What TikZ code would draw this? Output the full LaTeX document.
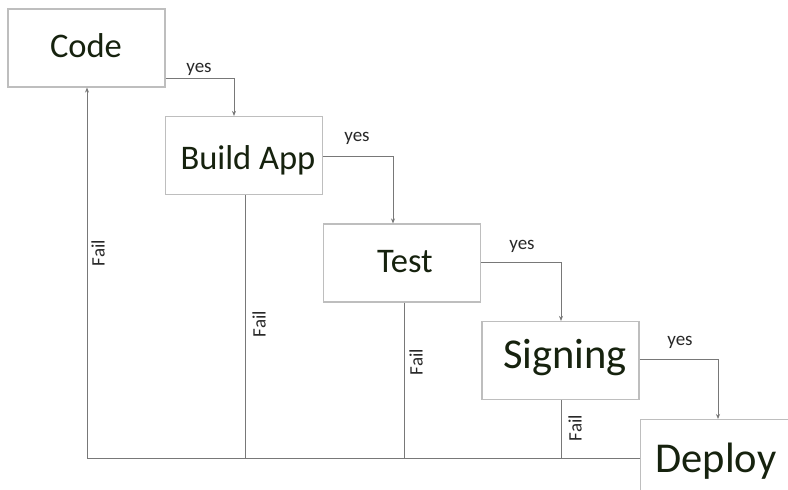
\documentclass[tikz,border=0pt]{standalone}
\usepackage{fontspec}
\setmainfont{Carlito}
\usetikzlibrary{arrows.meta}
\definecolor{boxline}{RGB}{190,190,190}
\definecolor{conn}{RGB}{120,120,120}
\definecolor{txt}{RGB}{22,34,14}
\definecolor{lbl}{RGB}{40,40,40}
\tikzset{
  stage/.style={draw=boxline, line width=1.2pt, fill=white, minimum width=157pt, minimum height=78pt, inner sep=0pt},
  stxt/.style={font=\fontsize{34.5}{38}\selectfont, text=txt, inner sep=0pt},
  btxt/.style={font=\fontsize{42.5}{46}\selectfont, text=txt, inner sep=0pt},
  conn/.style={draw=conn, line width=0.9pt},
  arr/.style={conn, -{Stealth[length=5pt,width=4pt]}},
  lab/.style={font=\fontsize{19}{21}\selectfont, text=lbl, inner sep=0pt},
}
\begin{document}
\begin{tikzpicture}[x=1pt,y=-1pt]
\useasboundingbox (0,0) rectangle (788,490);
\clip (0,0) rectangle (788,490);
\fill[white] (0,0) rectangle (788,490);
\node[stage] (code) at (86.5,48) {};
\node[stage] (build) at (244,155.5) {};
\node[stage] (test) at (402,263) {};
\node[stage] (sign) at (560.5,360.5) {};
\node[stage, minimum width=160pt, minimum height=80pt, anchor=north west] (deploy) at (640,419) {};
\node[stxt] (codet) at (86,46) {Code};
\node[stxt] (buildt) at (248,160) {Build App};
\node[stxt] (testt) at (405,262) {Test};
\node[btxt] (signt) at (565,358) {Signing};
\node[btxt] (deployt) at (716,461) {Deploy};
% yes connectors
\coordinate (c1) at (234,78);
\coordinate (c2) at (393,156);
\coordinate (c3) at (561,262);
\coordinate (c4) at (718,359);
\draw[arr] (code.east |- c1) -- (c1) -- (c1 |- build.north);
\draw[arr] (build.east |- c2) -- (c2) -- (c2 |- test.north);
\draw[arr] (test.east |- c3) -- (c3) -- (c3 |- sign.north);
\draw[arr] (sign.east |- c4) -- (c4) -- (c4 |- deploy.north);
\node[lab] (y1) at (199,69) {yes};
\node[lab] (y2) at (357,138) {yes};
\node[lab] (y3) at (522,246) {yes};
\node[lab] (y4) at (680,342) {yes};
% fail connectors
\coordinate (bl) at (87,458);
\coordinate (f1) at (245,458);
\coordinate (f2) at (404,458);
\coordinate (f3) at (561,458);
\draw[conn] (build.south -| f1) -- (f1);
\draw[conn] (test.south -| f2) -- (f2);
\draw[conn] (sign.south -| f3) -- (f3);
\draw[arr] (deploy.west |- bl) -- (bl) -- (bl |- code.south);
\node[lab, rotate=90] (fl1) at (98,253) {Fail};
\node[lab, rotate=90] (fl2) at (259,324) {Fail};
\node[lab, rotate=90] (fl3) at (416,362) {Fail};
\node[lab, rotate=90] (fl4) at (575,428) {Fail};
\end{tikzpicture}
\end{document}
